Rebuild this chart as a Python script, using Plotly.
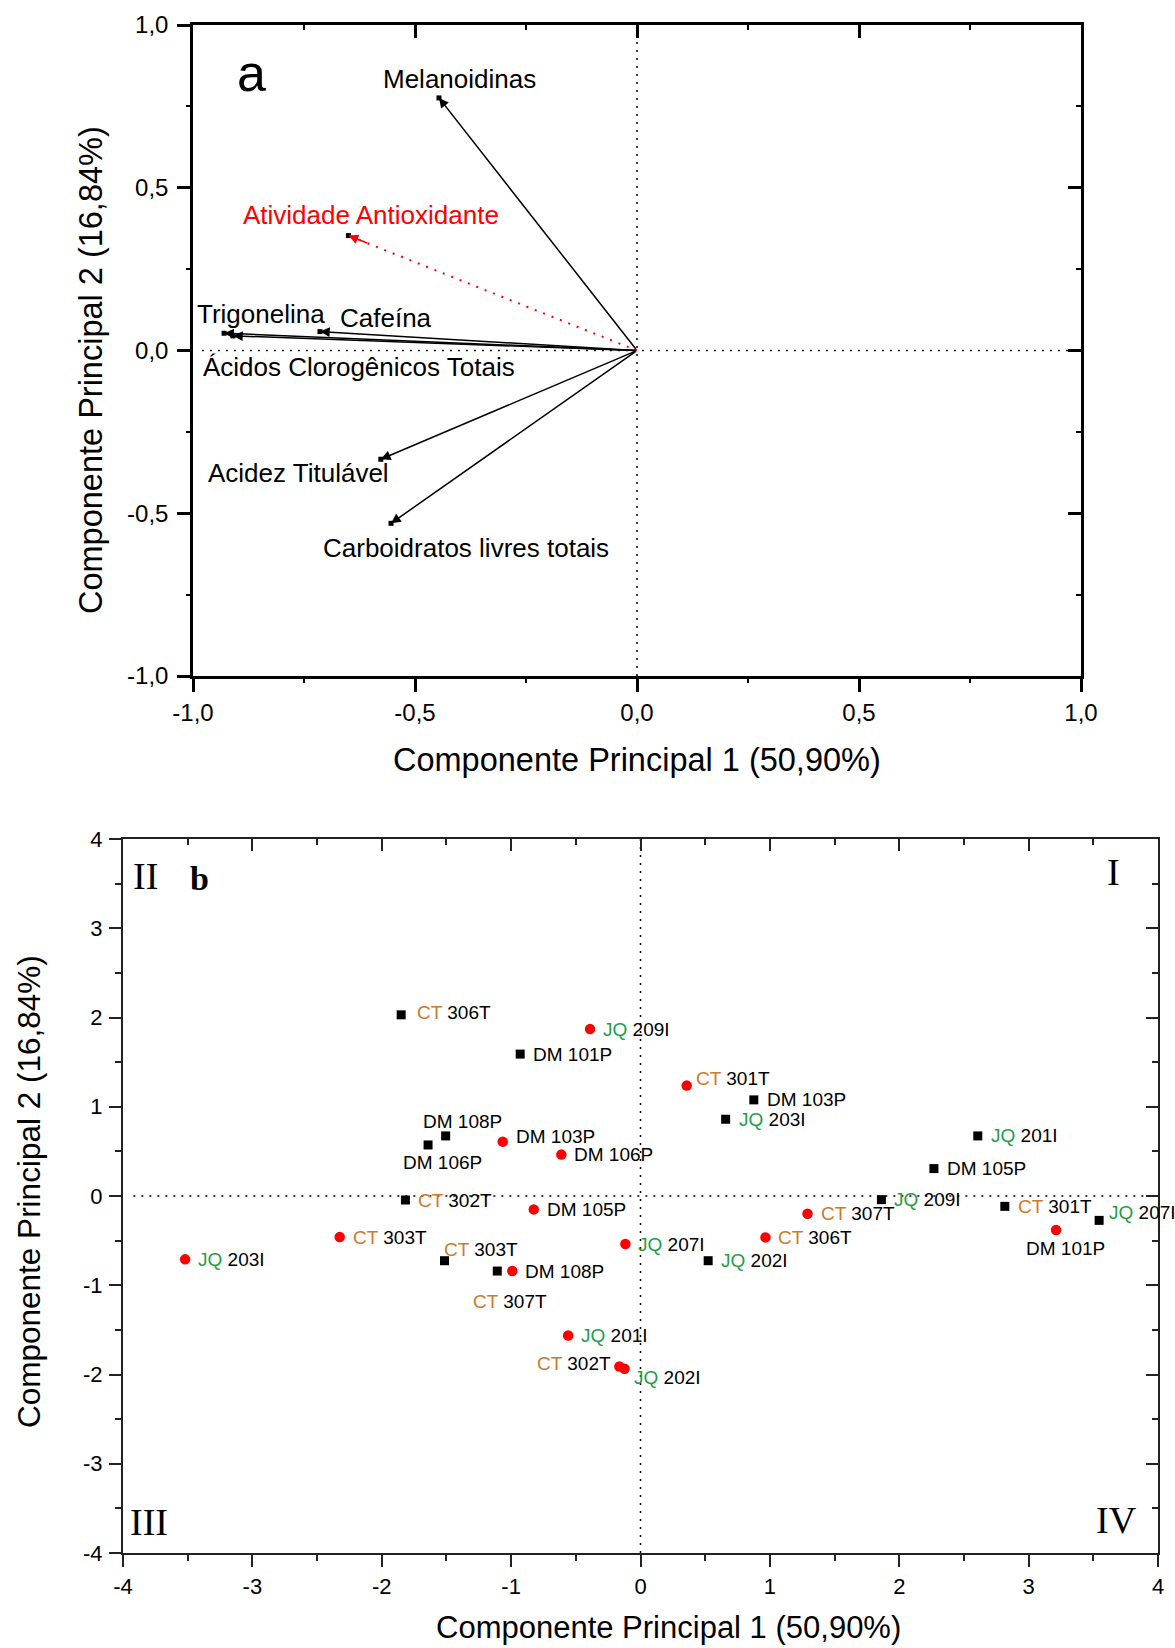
import plotly.graph_objects as go

# ---------------- Panel a: loadings ----------------
var_names = ["Melanoidinas", "Atividade Antioxidante", "Trigonelina", "Cafeína",
             "Ácidos Clorogênicos Totais", "Acidez Titulável", "Carboidratos livres totais"]
var_pc1 = [-0.446, -0.650, -0.930, -0.714, -0.910, -0.577, -0.554]
var_pc2 = [0.776, 0.353, 0.053, 0.058, 0.045, -0.334, -0.531]
var_color = ["black", "red", "black", "black", "black", "black", "black"]

# label offsets in screen px (dx right, dy down) relative to vector tip
var_label_off = [(21, -19), (23, -21), (37, -19), (66, -14), (126, 31), (-82, 14), (75, 25)]

a_ticks = [-1.0, -0.5, 0.0, 0.5, 1.0]
a_ticktext = ["-1,0", "-0,5", "0,0", "0,5", "1,0"]

# ---------------- Panel b: scores ----------------
sq_pc1 = [-1.85, -0.93, -1.506, -1.642, -1.817, -1.515, -1.107, 0.876, 0.658, 2.607, 2.268, 1.862, 2.816, 3.545, 0.523]
sq_pc2 = [2.03, 1.59, 0.673, 0.572, -0.045, -0.725, -0.841, 1.077, 0.860, 0.673, 0.307, -0.041, -0.116, -0.273, -0.725]
sq_group = ["CT", "DM", "DM", "DM", "CT", "CT", "CT", "DM", "JQ", "JQ", "DM", "JQ", "CT", "JQ", "JQ"]
sq_code = ["306T", "101P", "108P", "106P", "302T", "303T", "307T", "103P", "203I", "201I", "105P", "209I", "301T", "207I", "202I"]

ci_pc1 = [-0.39, 0.357, -1.065, -0.612, -0.825, -2.325, -0.117, -3.52, -0.991, -0.559, -0.163, -0.124, 1.291, 0.966, 3.212]
ci_pc2 = [1.87, 1.237, 0.609, 0.464, -0.150, -0.460, -0.538, -0.710, -0.841, -1.563, -1.910, -1.936, -0.198, -0.464, -0.381]
ci_group = ["JQ", "CT", "DM", "DM", "DM", "CT", "JQ", "JQ", "DM", "JQ", "CT", "JQ", "CT", "CT", "DM"]
ci_code = ["209I", "301T", "103P", "106P", "105P", "303T", "207I", "203I", "108P", "201I", "302T", "202I", "307T", "306T", "101P"]

b_ticks = [-4, -3, -2, -1, 0, 1, 2, 3, 4]
b_ticktext = ["-4", "-3", "-2", "-1", "0", "1", "2", "3", "4"]

# label placement (anchor, dx, dy) in screen px
R = ("left", 11, 0)
sq_label_pos = [("left", 14, -2), R, ("center", 17, -14), ("center", 14, 18), R,
                ("left", -3, -11), ("center", 13, 30), R, R, R, R, R, R, ("left", 8, -8), R]
ci_label_pos = [R, ("left", 7, -7), ("left", 11, -5), R, R, R, R, R, R, R,
                ("right", -6, -3), ("left", 8, 9), R, R, ("center", 9, 18)]

group_colors = {"CT": "#c97b2c", "JQ": "#1f9e4a", "DM": "black"}

W, H = 1175, 1648
FONT = "Arial, Liberation Sans, sans-serif"
SERIF = "Times New Roman, Liberation Serif, serif"

fig = go.Figure()

# Panel a vectors: tip squares
fig.add_trace(go.Scatter(x=var_pc1, y=var_pc2, mode="markers",
                         marker=dict(symbol="square", size=5, color="black"),
                         xaxis="x", yaxis="y", showlegend=False, hoverinfo="skip"))

# red dotted vector line
for i, c in enumerate(var_color):
    if c == "red":
        fig.add_trace(go.Scatter(x=[0, var_pc1[i]], y=[0, var_pc2[i]], mode="lines",
                                 line=dict(color="red", width=2, dash="2px,7px"),
                                 xaxis="x", yaxis="y", showlegend=False, hoverinfo="skip"))

# Panel b markers
fig.add_trace(go.Scatter(x=sq_pc1, y=sq_pc2, mode="markers",
                         marker=dict(symbol="square", size=9, color="black"),
                         xaxis="x2", yaxis="y2", showlegend=False, hoverinfo="skip"))
fig.add_trace(go.Scatter(x=ci_pc1, y=ci_pc2, mode="markers",
                         marker=dict(symbol="circle", size=10.5, color="#ff0000"),
                         xaxis="x2", yaxis="y2", showlegend=False, hoverinfo="skip"))

# dummy traces for mirror axes
for xa, ya in [("x3", "y"), ("x", "y3"), ("x4", "y2"), ("x2", "y4")]:
    fig.add_trace(go.Scatter(x=[None], y=[None], xaxis=xa, yaxis=ya,
                             showlegend=False, hoverinfo="skip"))

annotations = []
# arrows panel a
for i in range(len(var_names)):
    if var_color[i] == "black":
        annotations.append(dict(x=var_pc1[i], y=var_pc2[i], ax=0, ay=0, xref="x", yref="y",
                                axref="x", ayref="y", text="", showarrow=True,
                                arrowhead=2, arrowsize=1.3, arrowwidth=1.5, arrowcolor="black",
                                standoff=0))
    else:
        annotations.append(dict(x=var_pc1[i], y=var_pc2[i], ax=var_pc1[i] * 0.93, ay=var_pc2[i] * 0.93,
                                xref="x", yref="y", axref="x", ayref="y", text="", showarrow=True,
                                arrowhead=2, arrowsize=1.3, arrowwidth=1.5, arrowcolor="red",
                                standoff=0))
    dx, dy = var_label_off[i]
    annotations.append(dict(x=var_pc1[i], y=var_pc2[i], xref="x", yref="y", text=var_names[i],
                            showarrow=False, xanchor="center", yanchor="middle",
                            xshift=dx, yshift=-dy,
                            font=dict(family=FONT, size=26, color=var_color[i])))

annotations.append(dict(x=251 / W, y=1 - 73 / H, xref="paper", yref="paper", text="a",
                        showarrow=False, xanchor="center", yanchor="middle",
                        font=dict(family=FONT, size=52, color="black")))


def lab(g, c):
    return f"<span style='color:{group_colors[g]}'>{g}</span> {c}"


for xs, ys, gs, cs, ps in [(sq_pc1, sq_pc2, sq_group, sq_code, sq_label_pos),
                           (ci_pc1, ci_pc2, ci_group, ci_code, ci_label_pos)]:
    for x, y, g, c, p in zip(xs, ys, gs, cs, ps):
        anc, dx, dy = p
        annotations.append(dict(x=x, y=y, xref="x2", yref="y2", text=lab(g, c), showarrow=False,
                                xanchor=anc, yanchor="middle", xshift=dx, yshift=-dy,
                                font=dict(family=FONT, size=19, color="black")))

# quadrant labels
for txt, px, py in [("II", 145, 876), ("I", 1113, 872), ("III", 149, 1522), ("IV", 1116, 1520)]:
    annotations.append(dict(x=px / W, y=1 - py / H, xref="paper", yref="paper", text=txt,
                            showarrow=False, xanchor="center", yanchor="middle",
                            font=dict(family=SERIF, size=38, color="black")))
annotations.append(dict(x=199 / W, y=1 - 878 / H, xref="paper", yref="paper", text="<b>b</b>",
                        showarrow=False, xanchor="center", yanchor="middle",
                        font=dict(family=SERIF, size=34, color="black")))

# axis titles
annotations += [
    dict(x=637 / W, y=1 - 760 / H, xref="paper", yref="paper", text="Componente Principal 1 (50,90%)",
         showarrow=False, xanchor="center", yanchor="middle", font=dict(family=FONT, size=32.5, color="black")),
    dict(x=91 / W, y=1 - 370 / H, xref="paper", yref="paper", text="Componente Principal 2 (16,84%)",
         showarrow=False, xanchor="center", yanchor="middle", textangle=-90,
         font=dict(family=FONT, size=32.5, color="black")),
    dict(x=668 / W, y=1 - 1627 / H, xref="paper", yref="paper", text="Componente Principal 1 (50,90%)",
         showarrow=False, xanchor="center", yanchor="middle", font=dict(family=FONT, size=31, color="black")),
    dict(x=29 / W, y=1 - 1192 / H, xref="paper", yref="paper", text="Componente Principal 2 (16,84%)",
         showarrow=False, xanchor="center", yanchor="middle", textangle=-90,
         font=dict(family=FONT, size=31.5, color="black")),
]

shapes = []
dot = "2px,6px"
for xr, yr in [("x", "y"), ("x2", "y2")]:
    shapes.append(dict(type="line", xref=xr, yref=yr + " domain", x0=0, x1=0, y0=0, y1=1,
                       line=dict(color="black", width=1.5, dash=dot), layer="below"))
    shapes.append(dict(type="line", xref=xr + " domain", yref=yr, x0=0.01, x1=1, y0=0, y1=0,
                       line=dict(color="black", width=1.5, dash=dot), layer="below"))

a_xdom = [193 / W, 1081 / W]
a_ydom = [1 - 676 / H, 1 - 25 / H]
b_xdom = [123 / W, 1158 / W]
b_ydom = [1 - 1553 / H, 1 - 839 / H]

common_a = dict(showgrid=False, zeroline=False, showline=True, linecolor="black", linewidth=2.5,
                tickcolor="black", tickwidth=2.5, ticklen=13, automargin=False)
common_b = dict(showgrid=False, zeroline=False, showline=True, linecolor="#222", linewidth=2,
                tickcolor="#222", tickwidth=2, ticklen=12, automargin=False)

fig.update_layout(
    width=W, height=H, margin=dict(l=0, r=0, t=0, b=0, pad=0, autoexpand=False),
    paper_bgcolor="white", plot_bgcolor="white",
    annotations=annotations, shapes=shapes,
    xaxis=dict(domain=a_xdom, anchor="y", range=[-1, 1], tickvals=a_ticks, ticktext=a_ticktext,
               ticks="outside", ticklabelstandoff=0,
               minor=dict(dtick=0.25, ticks="outside", ticklen=4, tickwidth=2, tickcolor="black"),
               tickfont=dict(family=FONT, size=24, color="black"), **common_a),
    yaxis=dict(domain=a_ydom, anchor="x", range=[-1, 1], tickvals=a_ticks, ticktext=a_ticktext,
               ticks="outside", ticklabelstandoff=4,
               minor=dict(dtick=0.25, ticks="outside", ticklen=4, tickwidth=2, tickcolor="black"),
               tickfont=dict(family=FONT, size=24, color="black"), **common_a),
    xaxis3=dict(overlaying="x", anchor="y", side="top", range=[-1, 1], tickvals=a_ticks,
                showticklabels=False, ticks="inside",
                minor=dict(dtick=0.25, ticks="inside", ticklen=5, tickwidth=2, tickcolor="black"),
                **common_a),
    yaxis3=dict(overlaying="y", anchor="x", side="right", range=[-1, 1], tickvals=a_ticks,
                showticklabels=False, ticks="inside",
                minor=dict(dtick=0.25, ticks="inside", ticklen=5, tickwidth=2, tickcolor="black"),
                **common_a),
    xaxis2=dict(domain=b_xdom, anchor="y2", range=[-4, 4], tickvals=b_ticks, ticktext=b_ticktext,
                ticks="outside", ticklabelstandoff=1,
                minor=dict(dtick=0.5, ticks="outside", ticklen=6, tickwidth=2, tickcolor="#222"),
                tickfont=dict(family=FONT, size=22, color="black"), **common_b),
    yaxis2=dict(domain=b_ydom, anchor="x2", range=[-4, 4], tickvals=b_ticks, ticktext=b_ticktext,
                ticks="outside", ticklabelstandoff=2,
                minor=dict(dtick=0.5, ticks="outside", ticklen=6, tickwidth=2, tickcolor="#222"),
                tickfont=dict(family=FONT, size=22, color="black"), **common_b),
    xaxis4=dict(overlaying="x2", anchor="y2", side="top", range=[-4, 4], tickvals=b_ticks,
                showticklabels=False, ticks="inside",
                minor=dict(dtick=0.5, ticks="inside", ticklen=6, tickwidth=2, tickcolor="#222"),
                **common_b),
    yaxis4=dict(overlaying="y2", anchor="x2", side="right", range=[-4, 4], tickvals=b_ticks,
                showticklabels=False, ticks="inside",
                minor=dict(dtick=0.5, ticks="inside", ticklen=6, tickwidth=2, tickcolor="#222"),
                **common_b),
)

fig.write_html("out.html", config={"displayModeBar": False},
               post_script="document.body.style.margin='0px';document.body.style.overflow='hidden';")
